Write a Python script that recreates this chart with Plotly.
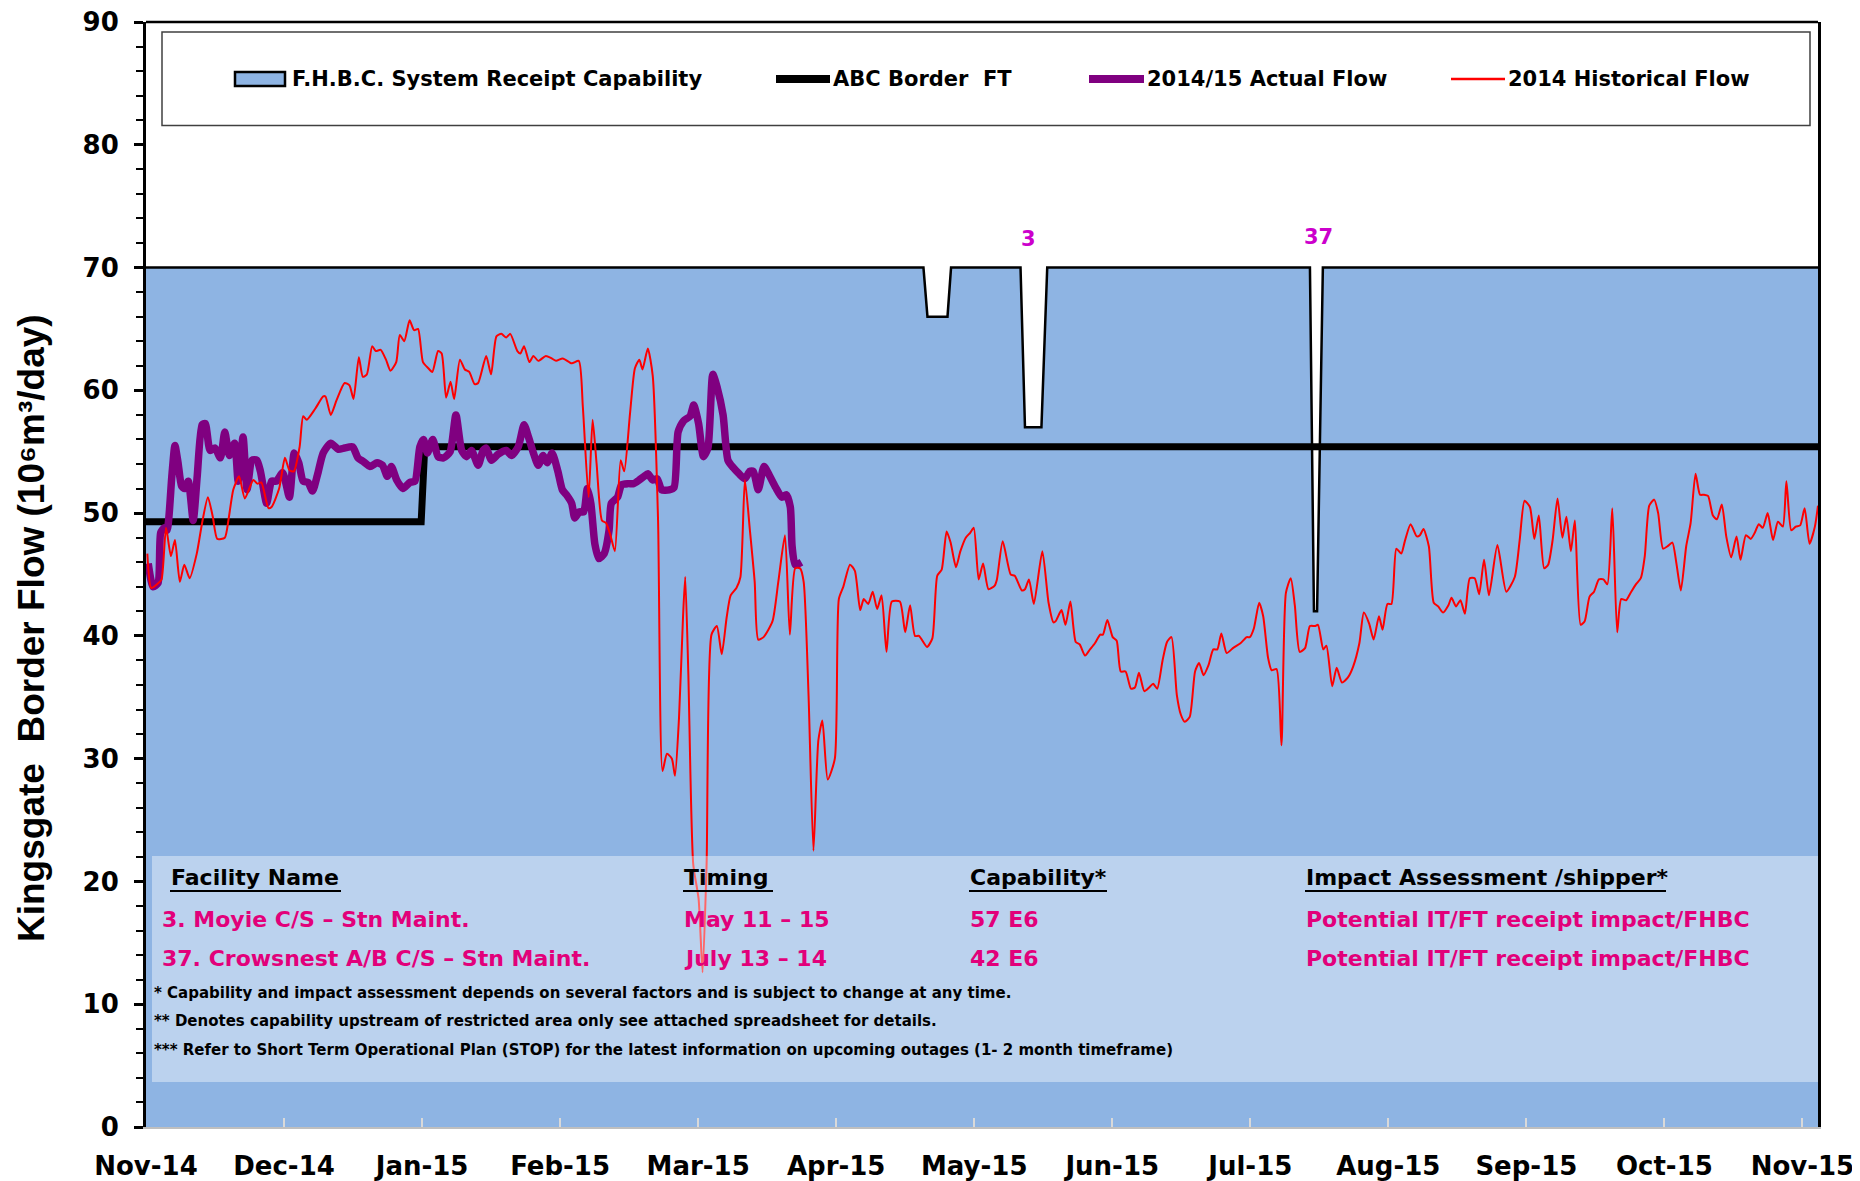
import plotly.graph_objects as go

# ---------------- data (x = day index from 1 Nov 2014; ticks every 31 days) ----------------
month_ticks = [0, 31, 62, 93, 124, 155, 186, 217, 248, 279, 310, 341, 372]
month_labels = ["Nov-14", "Dec-14", "Jan-15", "Feb-15", "Mar-15", "Apr-15", "May-15",
                "Jun-15", "Jul-15", "Aug-15", "Sep-15", "Oct-15", "Nov-15"]

# F.H.B.C. System Receipt Capability
cap_day = [0, 174.6, 175.5, 180.0, 180.8, 196.4, 197.4, 201.1, 202.4, 261.4, 262.3, 263.0, 264.3, 375.5]
cap_flow = [70, 70, 66, 66, 70, 70, 57, 57, 70, 70, 42, 42, 70, 70]

# ABC Border FT
abc_day = [0, 61.8, 62.6, 375.5]
abc_flow = [49.3, 49.3, 55.4, 55.4]

# 2014/15 Actual Flow
act_day = [0.5, 1.6, 2.7, 3.3, 4.1, 4.7, 5.8, 6.5, 7.2, 8.0, 8.7, 9.5, 10.6, 11.5, 12.6, 13.3,
           14.4, 15.5, 16.7, 17.7, 18.7, 19.9, 20.7, 21.8, 22.7, 23.8, 24.9, 25.7, 27.1, 28.2,
           29.3, 30.7, 32.2, 33.3, 34.3, 35.3, 36.4, 37.4, 38.5, 39.8, 41.5, 43.2, 44.6, 46.4,
           47.6, 48.8, 50.3, 51.9, 53.1, 54.2, 55.1, 56.3, 57.7, 59.3, 60.4, 61.5, 62.3, 63.2,
           64.4, 65.6, 66.8, 68.3, 69.6, 70.9, 72.0, 73.1, 74.6, 75.7, 76.4, 77.6, 79.1, 80.9,
           82.1, 83.6, 84.9, 85.9, 87.0, 88.1, 89.2, 90.1, 91.2, 92.5, 93.5, 94.4, 95.6, 96.3,
           97.3, 98.3, 99.1, 99.9, 100.8, 101.7, 102.9, 104.0, 104.5, 105.9, 106.8, 108.3, 109.5,
           110.8, 111.9, 112.7, 113.8, 114.8, 115.8, 117.5, 118.6, 119.5, 120.7, 122.2, 123.0,
           124.1, 125.2, 126.2, 127.3, 128.3, 129.6, 130.7, 131.9, 133.2, 134.5, 135.6, 136.4,
           137.5, 138.8, 140.1, 141.4, 142.8, 143.8, 144.7, 145.1, 145.8, 147.2]
act_flow = [45.9, 44.0, 44.3, 48.4, 48.8, 48.6, 53.0, 55.5, 54.1, 52.2, 52.0, 52.6, 49.4, 53.0,
            57.2, 57.3, 55.1, 55.3, 54.5, 56.6, 54.7, 55.7, 52.6, 56.2, 51.9, 54.3, 54.3, 53.4,
            50.8, 52.6, 52.6, 53.3, 51.3, 54.9, 54.1, 52.6, 52.5, 51.8, 53.1, 54.9, 55.7, 55.2,
            55.3, 55.4, 54.5, 54.2, 53.8, 54.1, 53.9, 53.0, 53.8, 52.7, 52.0, 52.5, 52.6, 55.4,
            56.0, 54.9, 56.0, 54.6, 54.5, 55.0, 58.0, 55.1, 54.6, 55.1, 53.9, 55.1, 55.3, 54.3,
            54.8, 55.1, 54.7, 55.4, 57.2, 56.2, 54.9, 53.9, 54.7, 54.1, 54.9, 53.4, 51.9, 51.5,
            50.8, 49.6, 50.1, 50.1, 52.0, 50.8, 47.5, 46.3, 46.7, 48.6, 50.8, 51.3, 52.3, 52.4,
            52.4, 52.7, 53.0, 53.2, 52.7, 52.8, 51.9, 51.9, 52.1, 56.6, 57.5, 57.9, 58.8, 57.3,
            54.6, 55.3, 61.3, 60.2, 58.0, 54.3, 53.7, 53.2, 52.8, 53.4, 53.4, 51.9, 53.8, 53.0,
            52.1, 51.3, 51.5, 50.5, 47.3, 45.8, 46.0]

# 2014 Historical Flow
hist_day = [0.3, 1.2, 2.8, 3.5, 4.5, 5.6, 6.5, 7.6, 8.6, 9.8, 11.4, 12.6, 13.9, 15.0, 16.0, 17.7,
            18.5, 19.6, 20.9, 22.2, 24.1, 25.0, 25.9, 27.5, 28.2, 29.9, 31.2, 32.2, 33.2, 34.5,
            35.3, 36.1, 38.0, 39.8, 40.3, 41.5, 42.8, 44.6, 45.7, 46.6, 47.8, 48.7, 49.6, 50.8,
            51.6, 52.7, 53.9, 54.9, 56.2, 57.0, 58.0, 59.2, 60.2, 61.1, 62.2, 63.4, 64.3, 65.6,
            66.4, 67.4, 68.4, 69.2, 70.5, 71.6, 72.6, 73.8, 74.6, 76.4, 77.5, 78.7, 79.8, 80.9,
            81.8, 83.4, 84.1, 84.9, 86.1, 87.0, 88.1, 89.8, 91.1, 92.1, 93.6, 95.6, 97.2, 98.1,
            99.4, 100.3, 101.2, 102.4, 103.3, 104.3, 105.3, 106.6, 107.4, 108.7, 109.8, 110.8,
            111.5, 112.7, 113.8, 115.0, 116.0, 117.0, 118.1, 118.8, 119.7, 120.6, 121.1, 121.8,
            122.9, 124.1, 125.0, 125.9, 127.0, 128.2, 129.3, 130.4, 131.3, 132.6, 133.5, 134.5,
            135.6, 136.7, 137.5, 138.7, 140.7, 142.0, 143.5, 144.6, 145.8, 146.9, 147.7, 148.8,
            149.9, 151.0, 151.9, 153.1, 154.7, 155.6, 156.6, 158.1, 159.2, 160.4, 161.2, 162.2,
            163.2, 164.2, 165.2, 166.3, 167.5, 169.3, 170.5, 171.6, 172.7, 173.6, 175.4, 176.6,
            177.7, 178.7, 179.8, 180.7, 181.9, 182.9, 184.1, 185.1, 185.9, 187.0, 188.0, 189.2,
            190.6, 191.1, 192.4, 194.2, 195.1, 196.7, 197.4, 198.3, 199.4, 201.3, 202.7, 203.8,
            204.3, 205.6, 206.5, 207.6, 208.8, 209.7, 210.9, 212.0, 213.1, 214.3, 214.9, 215.9,
            217.1, 218.0, 218.9, 220.0, 221.2, 222.1, 223.0, 224.2, 225.3, 226.2, 227.1, 228.3,
            229.3, 230.3, 231.5, 232.4, 233.3, 234.4, 235.6, 236.5, 237.5, 238.6, 239.7, 240.6,
            241.5, 242.7, 244.1, 245.8, 247.2, 247.9, 248.8, 250.0, 250.9, 252.0, 252.8, 253.9,
            255.0, 256.0, 257.1, 258.0, 259.1, 260.3, 261.4, 262.5, 263.2, 264.4, 265.1, 266.4,
            267.4, 268.6, 269.9, 271.1, 272.5, 273.5, 274.7, 275.7, 276.9, 277.7, 278.8, 279.7,
            280.8, 281.9, 282.7, 284.0, 285.4, 286.1, 286.9, 288.1, 289.2, 290.2, 291.3, 292.5,
            293.2, 294.2, 295.2, 296.2, 297.3, 298.4, 299.4, 300.5, 301.6, 303.5, 305.5, 307.4,
            308.5, 309.6, 310.8, 311.8, 312.8, 314.0, 314.9, 315.9, 317.0, 318.1, 319.0, 320.0,
            320.9, 322.2, 323.1, 324.2, 325.2, 326.3, 327.3, 328.2, 329.3, 330.4, 331.3, 332.4,
            333.4, 334.6, 335.7, 336.6, 337.6, 338.7, 339.6, 340.7, 341.7, 342.8, 343.7, 344.7,
            345.9, 346.9, 348.0, 349.0, 349.9, 350.8, 351.9, 352.8, 353.9, 354.9, 356.0, 357.2,
            358.1, 359.3, 360.4, 361.3, 362.2, 363.1, 364.2, 365.4, 366.5, 367.6, 368.4, 369.5,
            370.5, 371.5, 372.5, 373.6, 374.8, 375.5]
hist_flow = [46.7, 43.9, 44.3, 44.6, 48.8, 46.5, 47.8, 44.4, 45.8, 44.7, 46.7, 49.2, 51.3, 49.7,
             47.9, 48.0, 49.4, 51.9, 53.0, 51.2, 52.7, 52.4, 52.5, 50.4, 50.5, 52.0, 54.5, 53.5,
             53.4, 55.4, 57.9, 57.6, 58.5, 59.5, 59.5, 58.0, 59.2, 60.6, 60.4, 59.3, 62.7, 61.1,
             61.3, 63.6, 63.2, 63.3, 62.5, 61.6, 62.3, 64.5, 64.0, 65.7, 64.9, 65.0, 62.3, 61.8,
             61.5, 63.2, 63.0, 59.4, 60.7, 59.3, 62.5, 61.7, 61.5, 60.5, 60.6, 62.8, 61.3, 64.4,
             64.6, 64.3, 64.6, 63.2, 63.0, 63.6, 62.3, 62.8, 62.4, 62.8, 62.6, 62.4, 62.6, 62.2,
             62.4, 58.7, 51.3, 57.6, 54.0, 49.4, 49.2, 48.2, 46.9, 54.3, 53.4, 58.1, 61.8, 62.5,
             61.7, 63.4, 61.2, 49.4, 29.0, 30.4, 30.0, 28.6, 33.3, 41.5, 44.8, 36.9, 21.4, 18.6,
             12.6, 21.4, 40.1, 40.8, 38.5, 41.5, 43.3, 43.9, 44.8, 52.7, 48.7, 44.4, 39.7, 39.9,
             41.2, 44.4, 48.2, 40.1, 45.5, 45.5, 44.4, 35.1, 22.5, 31.5, 33.1, 28.3, 30.0, 43.0,
             44.0, 45.8, 45.3, 42.1, 43.0, 42.6, 43.6, 42.2, 43.3, 38.7, 42.8, 42.8, 40.3, 42.5,
             40.0, 40.0, 39.1, 39.8, 44.9, 45.4, 48.5, 47.6, 45.6, 46.9, 48.0, 48.4, 48.8, 44.6,
             45.9, 43.8, 44.1, 44.6, 47.7, 45.0, 44.9, 43.7, 43.8, 44.6, 42.6, 46.9, 42.7, 41.1,
             41.2, 42.1, 40.9, 42.8, 39.5, 39.3, 38.4, 38.9, 39.4, 40.1, 40.1, 41.3, 39.9, 39.6,
             37.1, 37.1, 35.7, 35.8, 37.0, 35.5, 35.8, 36.1, 35.7, 38.0, 39.5, 39.9, 35.2, 33.6,
             33.0, 33.4, 37.1, 37.8, 36.8, 37.6, 38.9, 38.9, 40.2, 38.6, 39.0, 39.4, 39.9, 39.9,
             40.6, 42.7, 41.6, 38.2, 37.2, 37.3, 31.1, 43.5, 44.7, 42.5, 38.7, 39.0, 40.8, 40.8,
             40.9, 38.9, 39.2, 35.9, 37.4, 36.2, 36.6, 37.5, 39.4, 41.9, 41.0, 39.7, 41.6, 40.5,
             42.6, 42.6, 47.1, 46.7, 47.7, 49.1, 48.1, 48.2, 48.7, 47.3, 42.7, 42.4, 41.9, 42.5,
             43.1, 42.4, 42.9, 41.8, 44.7, 44.7, 43.4, 46.2, 43.3, 47.4, 43.6, 44.8, 47.8, 51.0,
             50.5, 47.9, 49.8, 45.5, 45.8, 47.8, 51.2, 48.0, 49.7, 46.9, 49.4, 40.9, 41.2, 43.2,
             43.6, 44.6, 44.6, 44.2, 50.4, 40.3, 43.0, 42.9, 43.5, 44.2, 44.7, 46.5, 50.6, 51.1,
             50.0, 47.1, 47.3, 47.6, 45.9, 43.7, 47.3, 49.2, 53.2, 51.5, 51.5, 51.4, 49.8, 49.5,
             50.7, 48.1, 46.4, 48.1, 46.2, 48.2, 47.9, 48.4, 49.1, 48.8, 50.0, 47.8, 49.3, 48.9,
             52.6, 48.6, 48.9, 49.0, 50.4, 47.5, 48.9, 50.6]

outage_ids = ["3", "37"]
outage_day = [198.1, 263.3]
outage_label_y = [72.3, 72.5]

table_headers = ["Facility Name", "Timing", "Capability*", "Impact Assessment /shipper*"]
table_rows = [
    ["3. Moyie C/S \u2013 Stn Maint.", "May 11 \u2013 15", "57 E6", "Potential IT/FT receipt impact/FHBC"],
    ["37. Crowsnest A/B C/S \u2013 Stn Maint.", "July 13 \u2013 14", "42 E6", "Potential IT/FT receipt impact/FHBC"],
]
footnotes = [
    "* Capability and impact assessment depends on several factors and is subject to change at any time.",
    "** Denotes capability upstream of restricted area only see attached spreadsheet for details.",
    "*** Refer to Short Term Operational Plan (STOP) for the latest information on upcoming outages (1- 2 month timeframe)",
]

legend_names = ["F.H.B.C. System Receipt Capability", "ABC Border\u00a0 FT",
                "2014/15 Actual Flow", "2014 Historical Flow"]

y_title = "Kingsgate\u00a0 Border Flow (10\u2076m\u00b3/day)"

# ---------------- styling ----------------
FILL = "#8EB4E3"
PURPLE = "#800080"
RED = "#FF0000"
PINK = "#E2007A"
MAGENTA = "#CC00CC"
WIDE = "DejaVu Sans"
ARIAL = "Liberation Sans"

fig = go.Figure()
fig.add_trace(go.Scatter(x=cap_day, y=cap_flow, mode="lines", fill="tozeroy", fillcolor=FILL,
                         line=dict(color="black", width=2.5), name=legend_names[0], hoverinfo="skip"))
fig.add_trace(go.Scatter(x=abc_day, y=abc_flow, mode="lines",
                         line=dict(color="black", width=7), name=legend_names[1]))
fig.add_trace(go.Scatter(x=act_day, y=act_flow, mode="lines",
                         line=dict(color=PURPLE, width=7.5, shape="spline", smoothing=0.6),
                         name=legend_names[2]))
fig.add_trace(go.Scatter(x=hist_day, y=hist_flow, mode="lines",
                         line=dict(color=RED, width=2, shape="spline", smoothing=0.6),
                         name=legend_names[3]))

# plot-area frame in reference pixels (page is offset by the 8px body margin)
W0, W1 = 146, 1818
H0, H1 = 22, 1127
OFF = 8


def px(x):
    return (x - W0) / (W1 - W0)


def py(y):
    return (H1 - y) / (H1 - H0)


shapes = []
annotations = []

# top frame line
shapes.append(dict(type="line", xref="paper", yref="paper", x0=0, x1=1, y0=1, y1=1,
                   line=dict(color="black", width=2.5), layer="above"))

# legend box
shapes.append(dict(type="rect", xref="paper", yref="paper", x0=px(162), x1=px(1810),
                   y0=py(125.5), y1=py(32), fillcolor="white",
                   line=dict(color="#404040", width=1.5), layer="above"))
ly = py(79)
shapes.append(dict(type="rect", xref="paper", yref="paper", x0=px(235), x1=px(285),
                   y0=py(86), y1=py(72), fillcolor=FILL, line=dict(color="black", width=2.5), layer="above"))
shapes.append(dict(type="line", xref="paper", yref="paper", x0=px(776), x1=px(830), y0=ly, y1=ly,
                   line=dict(color="black", width=8), layer="above"))
shapes.append(dict(type="line", xref="paper", yref="paper", x0=px(1089), x1=px(1144), y0=ly, y1=ly,
                   line=dict(color=PURPLE, width=8), layer="above"))
shapes.append(dict(type="line", xref="paper", yref="paper", x0=px(1451), x1=px(1505), y0=ly, y1=ly,
                   line=dict(color=RED, width=2.5), layer="above"))
for name, x in zip(legend_names, [290, 831, 1145, 1506]):
    annotations.append(dict(xref="paper", yref="paper", x=px(x), y=ly, xanchor="left", yanchor="middle",
                            text="<b>%s</b>" % name, showarrow=False,
                            font=dict(family=WIDE, size=21, color="black")))

# outage table box (semi-transparent)
shapes.append(dict(type="rect", xref="paper", yref="paper", x0=px(152), x1=1.0,
                   y0=py(1082), y1=py(856), fillcolor="rgba(255,255,255,0.40)",
                   line=dict(width=0), layer="above"))

col_x = [169, 682, 968, 1304]
row_x = [160, 682, 968, 1304]
ul_end = [341, 773, 1107, 1666]
hy = py(877)
for h, x, xe in zip(table_headers, col_x, ul_end):
    annotations.append(dict(xref="paper", yref="paper", x=px(x), y=hy, xanchor="left", yanchor="middle",
                            text="<b>%s</b>" % h, showarrow=False,
                            font=dict(family=WIDE, size=22, color="black")))
    shapes.append(dict(type="line", xref="paper", yref="paper", x0=px(x + 1), x1=px(xe),
                       y0=py(891), y1=py(891), line=dict(color="black", width=2.2), layer="above"))
for row, yv in zip(table_rows, [919, 958]):
    for cell, x in zip(row, row_x):
        annotations.append(dict(xref="paper", yref="paper", x=px(x), y=py(yv), xanchor="left",
                                yanchor="middle", text="<b>%s</b>" % cell, showarrow=False,
                                font=dict(family=WIDE, size=22, color=PINK)))
for note, yv in zip(footnotes, [993, 1021, 1049.5]):
    annotations.append(dict(xref="paper", yref="paper", x=px(152), y=py(yv), xanchor="left",
                            yanchor="middle", text="<b>%s</b>" % note, showarrow=False,
                            font=dict(family=WIDE, size=15, color="black")))

# outage labels over the capability dips
for lab, xd, yd in zip(outage_ids, outage_day, outage_label_y):
    annotations.append(dict(x=xd, y=yd, xref="x", yref="y", text="<b>%s</b>" % lab, showarrow=False,
                            xanchor="center", yanchor="middle",
                            font=dict(family=WIDE, size=21, color=MAGENTA)))

# y-axis title
annotations.append(dict(xref="paper", yref="paper", x=px(31), y=py(628), textangle=-90,
                        xanchor="center", yanchor="middle", showarrow=False,
                        text="<b>%s</b>" % y_title,
                        font=dict(family=ARIAL, size=37, color="black")))

fig.update_layout(
    width=1860, height=1181,
    margin=dict(l=W0 - OFF, r=1860 - (W1 - OFF), t=H0 - OFF, b=1181 - (H1 - OFF), pad=0,
                autoexpand=False),
    plot_bgcolor="white", paper_bgcolor="white",
    showlegend=False,
    shapes=shapes, annotations=annotations,
    xaxis=dict(range=[0, 375.5], tickmode="array", tickvals=month_ticks, ticktext=month_labels,
               ticks="inside", ticklen=9, tickwidth=2, tickcolor="#D9D9D9",
               showline=True, linecolor="#BFBFBF", linewidth=2, showgrid=False, zeroline=False,
               tickfont=dict(family=WIDE, size=26, color="black", weight="bold"),
               ticklabelstandoff=15, automargin=False, ticklabeloverflow="allow"),
    yaxis=dict(range=[0, 90], tickmode="linear", tick0=0, dtick=10,
               ticks="outside", ticklen=9, tickwidth=2.5, tickcolor="black",
               minor=dict(dtick=2, ticks="outside", ticklen=7, tickwidth=2, tickcolor="black"),
               showline=True, mirror=True, linecolor="black", linewidth=3,
               showgrid=False, zeroline=False,
               tickfont=dict(family=WIDE, size=26, color="black", weight="bold"),
               ticklabelstandoff=10, automargin=False, ticklabeloverflow="allow"),
)

fig.write_html("out.html")
